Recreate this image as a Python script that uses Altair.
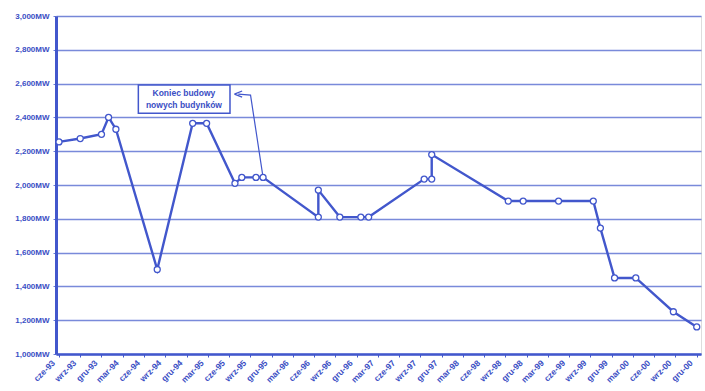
import json
import altair as alt
import pandas as pd

# ---- data ----
dates = ["1993-06-01", "1993-09-01", "1993-12-01", "1994-01-01", "1994-02-02",
         "1994-07-27", "1994-12-27", "1995-02-26", "1995-06-26", "1995-07-25",
         "1995-09-25", "1995-10-25", "1996-06-19", "1996-06-19", "1996-09-20",
         "1996-12-19", "1997-01-22", "1997-09-17", "1997-10-19", "1997-10-19",
         "1998-09-13", "1998-11-16", "1999-04-16", "1999-09-13", "1999-10-13",
         "1999-12-13", "2000-03-13", "2000-08-22", "2000-12-01"]
values_mw = [2255, 2275, 2300, 2400, 2330,
             1500, 2365, 2365, 2010, 2045,
             2045, 2045, 1810, 1970, 1810,
             1810, 1810, 2035, 2035, 2180,
             1905, 1905, 1905, 1905, 1745,
             1450, 1450, 1250, 1160]

tick_labels = ["cze-93", "wrz-93", "gru-93",
               "mar-94", "cze-94", "wrz-94", "gru-94",
               "mar-95", "cze-95", "wrz-95", "gru-95",
               "mar-96", "cze-96", "wrz-96", "gru-96",
               "mar-97", "cze-97", "wrz-97", "gru-97",
               "mar-98", "cze-98", "wrz-98", "gru-98",
               "mar-99", "cze-99", "wrz-99", "gru-99",
               "mar-00", "cze-00", "wrz-00", "gru-00"]

note_lines = ["Koniec budowy", "nowych budynków"]
note_line_values = [2544, 2473]
note_center_date = "1994-11-20"
box_dates = ["1994-05-07", "1995-06-05"]
box_values = [2424, 2592]
arrow_dates = ["1995-10-25", "1995-09-02", "1995-07-10"]
arrow_values = [2045, 2532, 2538]

BLUE = "#4257cc"
TEXT = "#3a4ec4"
GRID = "#6a7dd6"


def month_index(s):
    y, m, d = (int(p) for p in s.split("-"))
    return (y - 1993) * 12 + (m - 6) + (d - 1) / 30.0


df = pd.DataFrame({"t": [month_index(d) for d in dates], "v": values_mw,
                   "i": list(range(len(dates)))})

label_expr = json.dumps(tick_labels) + "[round(datum.value / 3)]"

xscale = alt.Scale(domain=[-0.42, 90.6], nice=False, zero=False)
yscale = alt.Scale(domain=[1000, 3000], nice=False, zero=False)

x_axis = alt.Axis(values=list(range(0, 91, 3)), tickCount=100, labelExpr=label_expr,
                  labelAngle=-45, labelAlign="right", labelBaseline="middle",
                  labelOffset=-6, labelPadding=4, labelFont="Liberation Sans",
                  labelFontSize=8.5, labelFontWeight="bold", labelColor=TEXT,
                  tickColor=BLUE, tickSize=3, domainColor=BLUE, domainWidth=2.5,
                  grid=False, title=None, labelOverlap=False)
y_axis = alt.Axis(values=list(range(1000, 3001, 200)), tickCount=50,
                  labelExpr="format(datum.value, ',') + 'MW'",
                  labelFont="Liberation Sans", labelFontSize=8, labelFontWeight="bold",
                  labelColor=TEXT, tickColor=GRID, tickSize=3, labelPadding=4,
                  labelOverlap=False, domainColor=BLUE, domainWidth=3, grid=True,
                  gridColor=GRID, gridWidth=1.3, gridOpacity=0.9, title=None)

base = alt.Chart(df)
line = base.mark_line(color=BLUE, strokeWidth=2.4).encode(
    x=alt.X("t:Q", scale=xscale, axis=x_axis),
    y=alt.Y("v:Q", scale=yscale, axis=y_axis),
    order="i:Q",
)
pts = base.mark_point(shape="circle", filled=True, fill="white", stroke=BLUE,
                      strokeWidth=1.3, size=36, opacity=1).encode(
    x=alt.X("t:Q", scale=xscale), y=alt.Y("v:Q", scale=yscale))

box_df = pd.DataFrame({"x1": [month_index(box_dates[0])], "x2": [month_index(box_dates[1])],
                       "y1": [box_values[0]], "y2": [box_values[1]]})
box = alt.Chart(box_df).mark_rect(fill="white", stroke=BLUE, strokeWidth=1.5).encode(
    x=alt.X("x1:Q", scale=xscale), x2="x2:Q",
    y=alt.Y("y1:Q", scale=yscale), y2="y2:Q")

note_df = pd.DataFrame({"x": [month_index(note_center_date)] * len(note_lines),
                        "y": note_line_values, "txt": note_lines})
note = alt.Chart(note_df).mark_text(font="Liberation Sans", fontSize=8.5,
                                    fontWeight="bold", color=TEXT, align="center",
                                    baseline="middle").encode(
    x=alt.X("x:Q", scale=xscale), y=alt.Y("y:Q", scale=yscale), text="txt:N")

arrow_df = pd.DataFrame({"x": [month_index(d) for d in arrow_dates], "y": arrow_values,
                         "i": list(range(len(arrow_dates)))})
arrow = alt.Chart(arrow_df).mark_line(color=BLUE, strokeWidth=1.2).encode(
    x=alt.X("x:Q", scale=xscale), y=alt.Y("y:Q", scale=yscale), order="i:Q")
head = alt.Chart(arrow_df.tail(1)).mark_point(
    shape="M-1,0L1,-0.8M-1,0L1,0.8", filled=False, stroke=BLUE, strokeWidth=1.3,
    size=60, opacity=1).encode(
    x=alt.X("x:Q", scale=xscale), y=alt.Y("y:Q", scale=yscale))

chart = alt.layer(line, arrow, head, pts, box, note).properties(
    width=645, height=338,
    padding={"left": 56, "top": 16, "right": 4, "bottom": 37},
    autosize=alt.AutoSizeParams(type="none"),
).configure_view(stroke=BLUE, strokeWidth=2.5).configure(background="white")

chart.save("out.html", embed_options={"renderer": "svg", "actions": False})
